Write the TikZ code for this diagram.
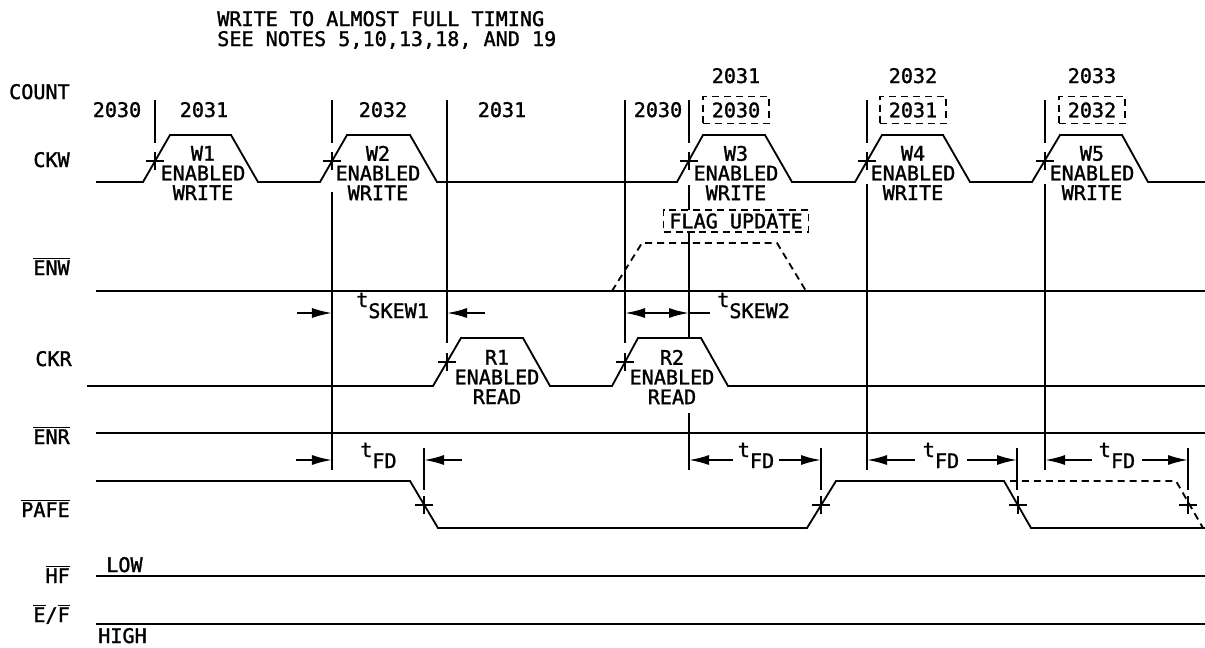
\documentclass[tikz,border=0pt]{standalone}
\usepackage{fontspec}
\setmainfont{DejaVu Sans Mono}[BoldFont={DejaVu Sans Mono}, BoldFeatures={FakeBold=1.4}]
\usetikzlibrary{arrows.meta,positioning}
\tikzstyle{l1}=[line width=1.3pt]
\tikzstyle{dl}=[l1, dash pattern=on 5pt off 3.5pt]
\tikzstyle{txt}=[inner sep=0pt, font=\fontsize{14.3}{14}\selectfont\bfseries]
\tikzstyle{sig}=[txt, anchor=base east]
\tikzstyle{cnt}=[txt, anchor=base]
\tikzstyle{pl}=[txt, align=center]
\tikzstyle{box}=[txt, draw, dl, line width=1.1pt, minimum width=1.65cm, minimum height=0.68cm]
\tikzstyle{dim}=[l1, -{Latex[length=0.5cm,width=0.25cm]}]
\newcommand{\ovl}[1]{$\overline{\mbox{#1}}$}
\newcommand{\tsub}[1]{t\raisebox{-0.55em}{#1}}

\begin{document}
\begin{tikzpicture}[x=0.025cm, y=-0.025cm]
    \useasboundingbox (0,0) rectangle (1205,647);

    % title
    \node[txt, anchor=base west] (title) at (217,26) {WRITE TO ALMOST FULL TIMING};
    \node[txt, anchor=base west] (notes) at (217,46) {SEE NOTES 5,10,13,18, AND 19};

    % signal names
    \node[sig] (lcount) at (70,99) {COUNT};
    \node[sig] (lckw) at (70,167) {CKW};
    \node[sig] (lenw) at (70,275) {\ovl{ENW}};
    \node[sig] (lckr) at (72,366) {CKR};
    \node[sig] (lenr) at (70,444) {\ovl{ENR}};
    \node[sig] (lpafe) at (70,517) {\ovl{PAFE}};
    \node[sig] (lhf) at (70,583) {\ovl{HF}};
    \node[sig] (lef) at (70,622) {\ovl{E}/\ovl{F}};

    % count values
    \node[cnt] (c1) at (117,117) {2030};
    \node[cnt] (c2) at (204,117) {2031};
    \node[cnt] (c3) at (383,117) {2032};
    \node[cnt] (c4) at (502,117) {2031};
    \node[cnt] (c5) at (658,117) {2030};
    \node[cnt] (c6) at (736,83) {2031};
    \node[cnt] (c7) at (913,83) {2032};
    \node[cnt] (c8) at (1092,83) {2033};
    \node[box] (b6) at (736,110) {2030};
    \node[box] (b7) at (913,110) {2031};
    \node[box] (b8) at (1092,110) {2032};
    \node[box, minimum width=3.62cm, minimum height=0.55cm] (flag) at (736,221) {FLAG UPDATE};

    % CKW
    \draw[l1] (96,182) -- (143,182) -- (170,135) -- (231,135) -- (258,182) -- (320,182) -- (347,135) -- (410,135) -- (437,182)
        -- (677,182) -- (703,135) -- (765,135) -- (792,182) -- (855,182) -- (882,135) -- (943,135) -- (970,182)
        -- (1032,182) -- (1060,135) -- (1122,135) -- (1148,182) -- (1205,182);
    \node[pl] (w1) at (203,173) {W1\\ENABLED\\WRITE};
    \node[pl] (w2) at (378,173) {W2\\ENABLED\\WRITE};
    \node[pl] (w3) at (736,173) {W3\\ENABLED\\WRITE};
    \node[pl] (w4) at (913,173) {W4\\ENABLED\\WRITE};
    \node[pl] (w5) at (1092,173) {W5\\ENABLED\\WRITE};

    % ENW
    \draw[l1] (96,291) -- (1205,291);
    \draw[dl] (612,291) -- (642,243) -- (777,243) -- (806,291);

    % CKR
    \draw[l1] (87,386) -- (433,386) -- (461,338) -- (523,338) -- (550,386) -- (612,386) -- (638,338) -- (701,338) -- (728,386) -- (1205,386);
    \node[pl] (r1) at (497,377) {R1\\ENABLED\\READ};
    \node[pl] (r2) at (672,377) {R2\\ENABLED\\READ};

    % ENR
    \draw[l1] (96,433) -- (1205,433);

    % PAFE
    \draw[l1] (96,481) -- (410,481) -- (438,528) -- (807,528) -- (836,481) -- (1004,481) -- (1031,528) -- (1205,528);
    \draw[dl] (1010,481) -- (1176,481) -- (1203,528);

    % HF, E/F
    \draw[l1] (96,576) -- (1205,576);
    \node[txt, anchor=base west] (low) at (106,572) {LOW};
    \draw[l1] (96,624) -- (1205,624);
    \node[txt, anchor=base west] (high) at (98,643) {HIGH};

    % reference lines
    \draw[l1] (155,100) -- (155,143);
    \draw[l1] (332,100) -- (332,143) (332,192) -- (332,470);
    \draw[l1] (447,100) -- (447,343);
    \draw[l1] (625,100) -- (625,343);
    \draw[l1] (689,100) -- (689,143) (689,185) -- (689,210) (689,232) -- (689,338) (689,413) -- (689,470);
    \draw[l1] (867,100) -- (867,143) (867,184) -- (867,470);
    \draw[l1] (1045,100) -- (1045,143) (1045,184) -- (1045,470);
    \foreach \x in {424,821,1017,1188}
        \draw[l1] (\x,448) -- (\x,490);

    % crossing marks
    \foreach \x/\y in {155/161,332/161,689/161,867/161,1045/161,447/362,625/362,424/505,821/505,1018/505,1188/505}
        \draw[l1] (\x,\y) +(-9,0) -- +(9,0) (\x,\y) +(0,-9) -- +(0,9);

    % skew times
    \draw[dim] (297,313) -- (332,313);
    \draw[dim] (485,313) -- (447,313);
    \node[txt, anchor=base west] (tskew1) at (356,307) {\tsub{SKEW1}};
    \draw[l1, {Latex[length=0.5cm,width=0.25cm]}-{Latex[length=0.5cm,width=0.25cm]}] (625,313) -- (689,313);
    \draw[l1] (689,313) -- (710,313);
    \node[txt, anchor=base west] (tskew2) at (717,307) {\tsub{SKEW2}};

    % flag delays
    \draw[dim] (296,460) -- (332,460);
    \draw[dim] (462,460) -- (424,460);
    \node[txt, anchor=base west] (tfd1) at (360,457) {\tsub{FD}};
    \draw[dim] (733,460) -- (689,460);
    \draw[dim] (779,460) -- (821,460);
    \node[txt, anchor=base] (tfd2) at (756,457) {\tsub{FD}};
    \draw[dim] (915,460) -- (867,460);
    \draw[dim] (967,460) -- (1017,460);
    \node[txt, anchor=base] (tfd3) at (941,457) {\tsub{FD}};
    \draw[dim] (1092,460) -- (1045,460);
    \draw[dim] (1142,460) -- (1188,460);
    \node[txt, anchor=base] (tfd4) at (1117,457) {\tsub{FD}};
\end{tikzpicture}
\end{document}
